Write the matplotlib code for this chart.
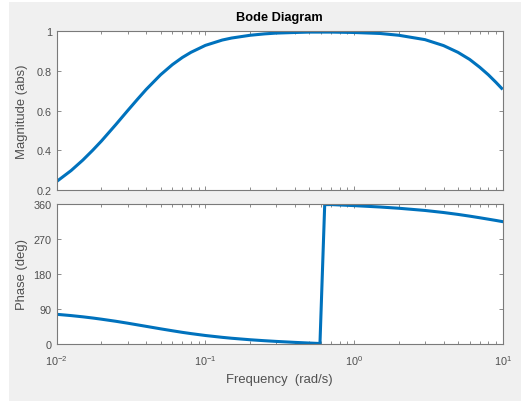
import matplotlib
matplotlib.use("Agg")
import matplotlib.pyplot as plt
from matplotlib.ticker import LogLocator, NullFormatter, FixedLocator

plt.rcParams['font.family'] = ['Liberation Sans', 'DejaVu Sans']

# Frequency samples (rad/s)
freq = [0.01, 0.0125, 0.015, 0.0175, 0.02, 0.025, 0.03, 0.035, 0.04, 0.05,
        0.06, 0.07, 0.08, 0.1, 0.13, 0.15, 0.2, 0.25, 0.3, 0.4, 0.5, 0.59,
        0.635, 0.7, 1.0, 1.5, 2.0, 3.0, 4.0, 5.0, 6.0, 7.0, 8.0, 9.0, 10.0]
magnitude = [0.243, 0.298, 0.351, 0.401, 0.447, 0.530, 0.600, 0.658, 0.707, 0.781,
             0.832, 0.868, 0.894, 0.929, 0.956, 0.966, 0.980, 0.987, 0.991, 0.994, 0.996, 0.996,
             0.996, 0.996, 0.994, 0.989, 0.980, 0.958, 0.928, 0.894, 0.858, 0.819, 0.781, 0.743, 0.707]
phase = [75.9, 72.6, 69.4, 66.3, 63.3, 57.9, 53.0, 48.6, 44.8, 38.4,
         33.4, 29.3, 26.1, 21.2, 16.4, 14.1, 10.2, 7.7, 5.9, 3.4, 1.7, 0.5,
         359.2, 359.3, 356.6, 353.0, 349.8, 344.1, 338.8, 333.9, 329.4, 325.3, 321.6, 318.3, 315.2]

mag_ticks = [0.2, 0.4, 0.6, 0.8, 1.0]
mag_ticklabels = ['0.2', '0.4', '0.6', '0.8', '1']
phase_ticks = [0, 90, 180, 270, 360]
phase_ticklabels = ['0', '90', '180', '270', '360']

line_color = '#0072BD'
spine_color = '#7a7a7a'
text_color = '#505050'
W, H = 521, 402

fig = plt.figure(figsize=(W / 100, H / 100), dpi=100)
fig.patch.set_facecolor('white')
# gray MATLAB figure background
bg = plt.Rectangle((9 / W, 0), 1 - 9 / W, 1 - 3 / H, transform=fig.transFigure,
                   facecolor='#f0f0f0', edgecolor='none', zorder=-10)
fig.patches.append(bg)

L = 56.7 / W
Wd = (502.7 - 56.7) / W
ax1 = fig.add_axes([L, 1 - 191 / H, Wd, (191 - 32.3) / H])
ax2 = fig.add_axes([L, 1 - 344.7 / H, Wd, (344.7 - 205.3) / H])

for ax in (ax1, ax2):
    ax.set_xscale('log')
    ax.set_xlim(0.01, 10)
    ax.set_facecolor('white')
    for s in ax.spines.values():
        s.set_color(spine_color)
        s.set_linewidth(0.8)
    ax.tick_params(which='both', direction='in', top=True, right=True,
                   color=spine_color, labelcolor=text_color, labelsize=7.8, width=0.6)
    ax.tick_params(which='major', length=3)
    ax.tick_params(which='minor', length=2)
    ax.xaxis.set_minor_locator(LogLocator(base=10, subs=range(2, 10)))
    ax.xaxis.set_minor_formatter(NullFormatter())

ax1.plot(freq, magnitude, color=line_color, lw=2.2, solid_capstyle='butt')
ax1.set_ylim(0.2, 1.0)
ax1.yaxis.set_major_locator(FixedLocator(mag_ticks))
ax1.set_yticklabels(mag_ticklabels)
ax1.tick_params(axis='x', labelbottom=False)
ax1.set_ylabel('Magnitude (abs)', fontsize=9.4, color=text_color)
ax1.yaxis.set_label_coords((28 - 56.7) / 446, 0.5)
ax1.set_title('Bode Diagram', fontsize=9.2, fontweight='bold', color='black', pad=8)

ax2.plot(freq, phase, color=line_color, lw=2.2, solid_joinstyle='miter')
ax2.set_ylim(0, 360)
ax2.yaxis.set_major_locator(FixedLocator(phase_ticks))
ax2.set_yticklabels(phase_ticklabels)
ax2.set_ylabel('Phase (deg)', fontsize=9.4, color=text_color)
ax2.yaxis.set_label_coords((28 - 56.7) / 446, 0.5)
ax2.set_xlabel('Frequency  (rad/s)', fontsize=9.4, color=text_color, labelpad=4)
ax2.tick_params(axis='x', pad=7)

fig.savefig('out.png', dpi=100, facecolor=fig.get_facecolor())
